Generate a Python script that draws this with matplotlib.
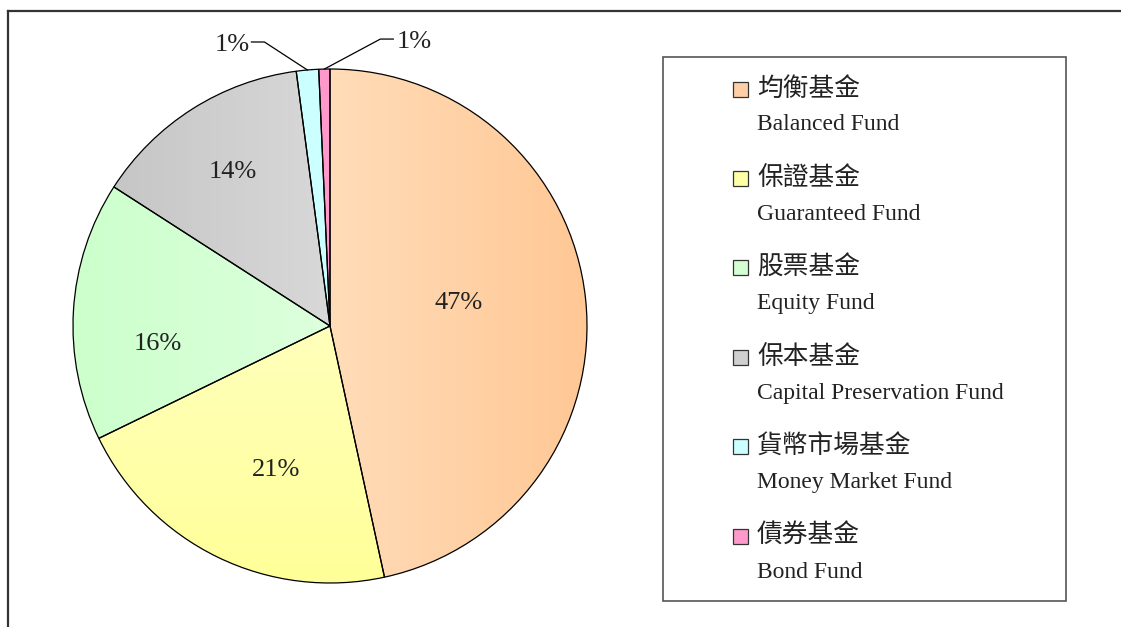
import numpy as np
import matplotlib.pyplot as plt
from matplotlib.colors import to_rgb
from matplotlib.patches import Rectangle

# fund names and shares (%)
names_zh = ['均衡基金', '保證基金', '股票基金', '保本基金', '貨幣市場基金', '債券基金']
names_en = ['Balanced Fund', 'Guaranteed Fund', 'Equity Fund',
            'Capital Preservation Fund', 'Money Market Fund', 'Bond Fund']
shares = [46.6, 21.2, 16.3, 13.8, 1.4, 0.7]

# slice fills: gradient start / end colour and direction
grad_start = ['#FFDCB8', '#FFFFBB', '#CCFFCC', '#C6C6C6', '#CCFFFF', '#FF99CC']
grad_end = ['#FFC895', '#FFFF99', '#DDFFDD', '#D8D8D8', '#CCFFFF', '#FF99CC']
grad_dir = ['h', 'v', 'h', 'h', 'h', 'h']
legend_colors = ['#FFD0A5', '#FFFFA8', '#D4FFD4', '#CFCFCF', '#CCFFFF', '#FF99CC']

LATIN = 'Liberation Serif'
CJK = ['Noto Sans CJK TC', 'DejaVu Sans']

W, H = 1121, 627
fig = plt.figure(figsize=(W / 100, H / 100), dpi=100)
ax = fig.add_axes([0, 0, 1, 1])

cx, cy, R = 330, H - 326, 257
wedges, _ = ax.pie(shares, startangle=90, counterclock=False,
                   center=(cx, cy), radius=R,
                   wedgeprops=dict(edgecolor='black', linewidth=0.9))

for i, w in enumerate(wedges):
    w.set_facecolor('none')
    w.set_zorder(3)
    bb = w.get_path().get_extents()
    c0, c1 = np.array(to_rgb(grad_start[i])), np.array(to_rgb(grad_end[i]))
    t = np.linspace(0, 1, 64)
    if grad_dir[i] == 'h':
        arr = (c0 + (c1 - c0) * t[:, None])[None, :, :]
    else:
        arr = (c0 + (c1 - c0) * t[:, None])[:, None, :]
    im = ax.imshow(arr, extent=(bb.x0, bb.x1, bb.y0, bb.y1), origin='upper',
                   aspect='auto', interpolation='bilinear', zorder=2)
    im.set_clip_path(w)

# percentage labels (radial position + small nudge in px)
label_r = [0.51, 0.59, 0.67, 0.70]
label_shift = [(-2, 9), (12, -8), (0, -28), (-1, 2)]
for i, w in enumerate(wedges):
    ang = np.deg2rad((w.theta1 + w.theta2) / 2)
    pct = '%.0f%%' % shares[i]
    if i < 4:
        x = cx + label_r[i] * R * np.cos(ang) + label_shift[i][0]
        y = cy + label_r[i] * R * np.sin(ang) + label_shift[i][1]
        ax.text(x, y, pct, ha='center', va='center', fontsize=19,
                family=LATIN, color='#222222', zorder=5)
    else:
        ex, ey = cx + R * np.cos(ang), cy + R * np.sin(ang)
        if i == 4:
            kx, ky, hx = ex - 43, ey + 28, -13
        else:
            kx, ky, hx = ex + 56, ey + 30, 13
        ax.plot([ex, kx, kx + hx], [ey, ky, ky], color='black', lw=0.9, zorder=5)
        ax.text(kx + hx + (-2 if hx < 0 else 3), ky - 3, pct,
                ha='right' if hx < 0 else 'left', va='center', fontsize=19,
                family=LATIN, color='#222222', zorder=5)

# legend box
ax.add_patch(Rectangle((663, H - 601), 403, 544, facecolor='white',
                       edgecolor='#555555', lw=1.2, zorder=1))
y0, step = H - 89, 89.4
for i in range(len(names_zh)):
    y = y0 - i * step
    ax.add_patch(Rectangle((733, y - 7.5), 15, 15, facecolor=legend_colors[i],
                           edgecolor='#333333', lw=0.9, zorder=4))
    ax.text(757, y, names_zh[i], ha='left', va='center', fontsize=18.5,
            family=CJK, color='#222222')
    ax.text(757, y - 36, names_en[i], ha='left', va='center', fontsize=17,
            family=LATIN, color='#222222')

# outer frame (clipped on right and bottom)
ax.plot([8, W + 5], [H - 11, H - 11], color='#333333', lw=1.6, zorder=6)
ax.plot([8, 8], [H - 11, -5], color='#333333', lw=1.6, zorder=6)

ax.set_xlim(0, W)
ax.set_ylim(0, H)
ax.axis('off')

fig.savefig('out.png', dpi=100)
